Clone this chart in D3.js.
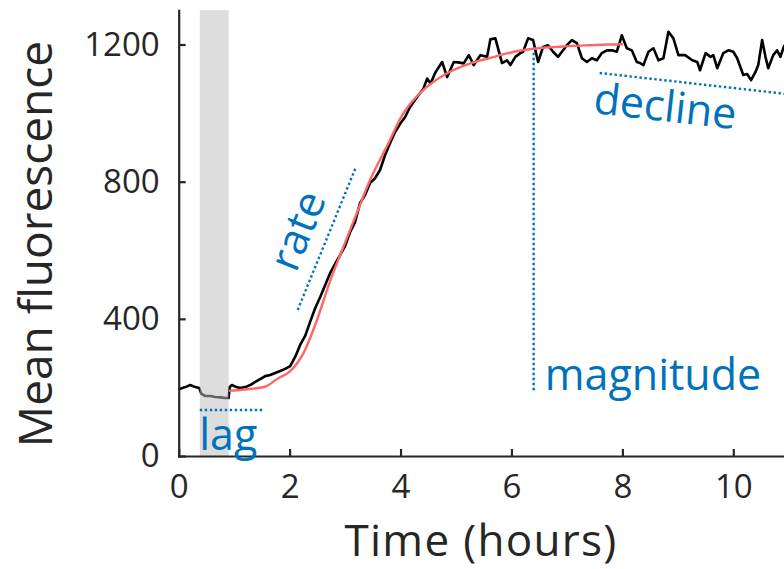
<!DOCTYPE html>
<html>
<head>
<meta charset="utf-8">
<script src="https://cdn.jsdelivr.net/npm/d3@7"></script>
<style>
  body { margin: 0; background: #fff; }
  svg { display: block; }
  text { font-family: "Open Sans", sans-serif; }
</style>
</head>
<body>
<svg id="chart" width="784" height="569"></svg>
<script>
// ---- data ----
const timeHours = [0.00,0.12,0.21,0.30,0.37,0.41,0.48,0.57,0.66,0.75,0.84,0.90,0.92,0.96,1.04,1.11,1.20,1.29,1.38,1.47,1.56,1.65,1.74,1.83,1.92,2.01,2.10,2.19,2.28,2.37,2.46,2.55,2.64,2.73,2.82,2.91,3.00,3.09,3.18,3.27,3.36,3.45,3.54,3.63,3.72,3.81,3.90,3.99,4.08,4.17,4.26,4.35,4.41,4.48,4.54,4.63,4.75,4.84,4.96,5.04,5.14,5.23,5.32,5.44,5.56,5.62,5.71,5.83,5.92,5.98,6.07,6.16,6.21,6.30,6.39,6.48,6.57,6.66,6.75,6.84,6.91,7.00,7.09,7.18,7.27,7.36,7.45,7.54,7.63,7.72,7.81,7.90,7.99,8.08,8.17,8.26,8.32,8.38,8.47,8.56,8.65,8.74,8.83,8.92,9.01,9.13,9.26,9.35,9.40,9.50,9.59,9.64,9.71,9.82,9.91,10.00,10.07,10.18,10.25,10.32,10.40,10.45,10.52,10.58,10.63,10.72,10.79,10.85,10.92];
const meanFluorescence = [195,201,207,201,198,181,175,175,172,171,169,169,201,207,201,198,201,207,216,224,233,236,242,248,254,262,289,324,350,391,431,463,498,533,560,586,612,653,682,738,761,796,810,834,877,912,944,968,988,1017,1038,1058,1070,1101,1086,1119,1149,1105,1149,1148,1145,1169,1140,1169,1164,1215,1218,1146,1154,1140,1164,1175,1179,1218,1213,1149,1193,1198,1179,1164,1179,1198,1213,1204,1160,1149,1160,1154,1175,1183,1183,1179,1227,1189,1183,1149,1146,1140,1179,1189,1154,1160,1237,1218,1169,1169,1154,1149,1125,1175,1164,1169,1131,1175,1183,1179,1160,1111,1114,1096,1120,1140,1213,1164,1131,1169,1183,1164,1198];

const fitTime   = [0.905,1.19,1.555,1.795,2.0,2.25,2.49,2.73,2.97,3.21,3.45,3.75,4.05,4.41,4.84,5.26,5.62,5.92,6.22,6.52,6.82,7.12,7.42,7.72,8.01];
const fitValues = [190,194,202,227,246,300,395,510,610,708,805,902,999,1067,1116,1145,1161,1174,1184,1190,1193,1196,1198,1200,1201];

const xTicks = [0, 2, 4, 6, 8, 10];
const yTicks = [0, 400, 800, 1200];
const xDomain = [0, 11];
const yDomain = [0, 1300];
const lagWindow = [0.38, 0.90];

// annotation guides, in data units [t, value]
const lagGuide = [[0.38, 134], [1.54, 134]];
const rateGuide = [[2.146, 426], [3.196, 843]];
const magnitudeGuide = [[6.40, 192], [6.40, 1180]];
const declineGuide = [[7.59, 1117], [10.95, 1056]];

const labels = [
  { text: "lag",       t: 0.37, v: 17,   angle: 0,     anchor: "start"  },
  { text: "rate",      t: 2.39, v: 641,  angle: -67.8, anchor: "middle" },
  { text: "magnitude", t: 6.60, v: 192,  angle: 0,     anchor: "start"  },
  { text: "decline",   t: 7.46, v: 1000, angle: 6.4,   anchor: "start"  }
];

// ---- drawing ----
const svg = d3.select("#chart");
const x = d3.scaleLinear().domain(xDomain).range([178.7, 178.7 + 11 * 55.46]);
const y = d3.scaleLinear().domain(yDomain).range([456, 456 - 1300 * 0.3429]);

const axisColor = "#262626";
const blue = "#0072BD";

// data line
const line = d3.line().x(d => x(d[0])).y(d => y(d[1]));
svg.append("path")
  .datum(timeHours.map((t, i) => [t, meanFluorescence[i]]))
  .attr("d", line)
  .attr("fill", "none")
  .attr("stroke", "#000")
  .attr("stroke-width", 2.6)
  .attr("stroke-linejoin", "round");

// fit curve
svg.append("path")
  .datum(fitTime.map((t, i) => [t, fitValues[i]]))
  .attr("d", line.curve(d3.curveMonotoneX))
  .attr("fill", "none")
  .attr("stroke", "#ff6666")
  .attr("stroke-width", 2.4);
line.curve(d3.curveLinear);

// lag band (semi-transparent overlay)
svg.append("rect")
  .attr("x", x(lagWindow[0]))
  .attr("width", x(lagWindow[1]) - x(lagWindow[0]))
  .attr("y", y(yDomain[1]))
  .attr("height", y(0) - y(yDomain[1]))
  .attr("fill", "#bdbdbd")
  .attr("fill-opacity", 0.52);

// axes
const fmt = d3.format("d");
const xAxis = d3.axisBottom(x).tickValues(xTicks).tickFormat(fmt).tickSize(-7).tickSizeOuter(0).tickPadding(19);
const yAxis = d3.axisLeft(y).tickValues(yTicks).tickFormat(fmt).tickSize(-7).tickSizeOuter(0).tickPadding(19);

const gx = svg.append("g").attr("transform", `translate(0,${y(0)})`).call(xAxis);
const gy = svg.append("g").attr("transform", `translate(${x(0)},0)`).call(yAxis);
[gx, gy].forEach(g => {
  g.select(".domain").attr("stroke", axisColor).attr("stroke-width", 2.2).attr("stroke-linecap", "square");
  g.selectAll(".tick line").attr("stroke", axisColor).attr("stroke-width", 2.2);
  g.selectAll(".tick text").attr("fill", axisColor).attr("font-size", 33)
    .style("font-family", '"Open Sans", sans-serif');
});

// axis titles
svg.append("text")
  .attr("x", 481).attr("y", 556)
  .attr("text-anchor", "middle")
  .attr("font-size", 44)
  .attr("letter-spacing", 1.3)
  .attr("fill", axisColor)
  .text("Time (hours)");

svg.append("text")
  .attr("transform", "translate(52,244) rotate(-90)")
  .attr("text-anchor", "middle")
  .attr("font-size", 46)
  .attr("fill", axisColor)
  .text("Mean fluorescence");

// annotation guides
[lagGuide, rateGuide, magnitudeGuide, declineGuide].forEach(g => {
  svg.append("path")
    .datum(g)
    .attr("d", line)
    .attr("fill", "none")
    .attr("stroke", blue)
    .attr("stroke-width", 2.4)
    .attr("stroke-dasharray", "2.4 2.6");
});

// annotation labels
labels.forEach(l => {
  svg.append("text")
    .attr("transform", `translate(${x(l.t)},${y(l.v)}) rotate(${l.angle})`)
    .attr("text-anchor", l.anchor)
    .attr("font-size", 43)
    .attr("fill", blue)
    .text(l.text);
});
</script>
</body>
</html>
